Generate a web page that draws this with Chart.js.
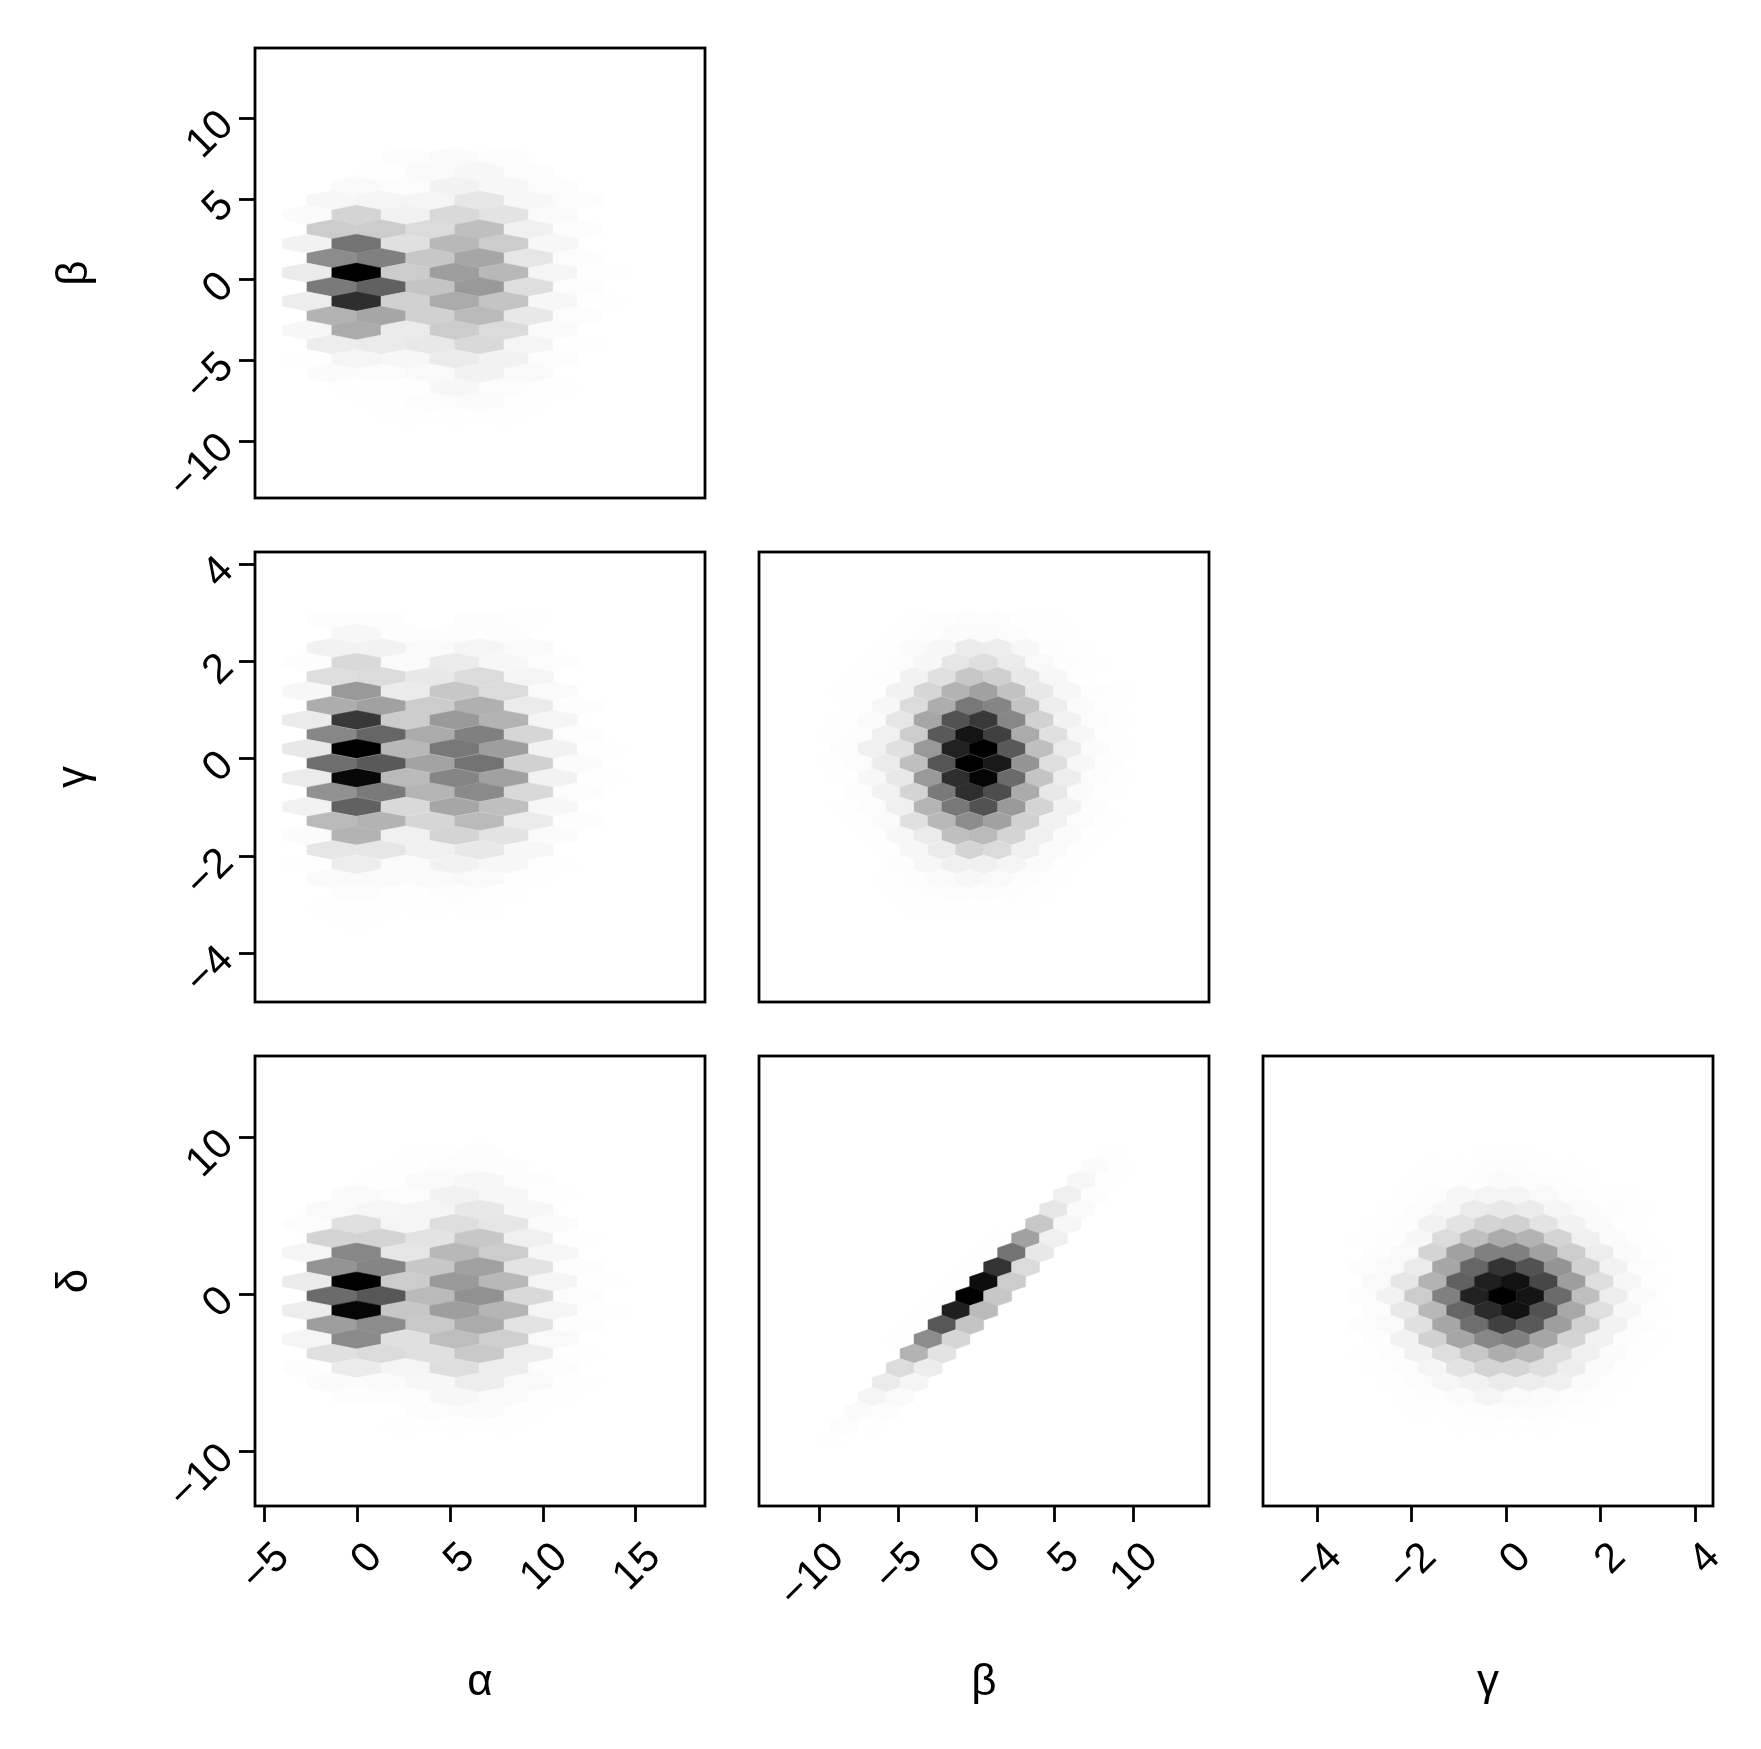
<!DOCTYPE html>
<html>
<head>
<meta charset="utf-8">
<title>Corner plot</title>
<script src="https://cdn.jsdelivr.net/npm/chart.js@4/dist/chart.umd.js"></script>
<style>
  html, body { margin: 0; padding: 0; background: #fff; }
  #wrap { position: relative; width: 1761px; height: 1749px; overflow: hidden; }
  #wrap canvas { position: absolute; }
</style>
</head>
<body>
<div id="wrap"></div>
<script>
// hex bin centres, in data units
const alphaBins = [-2.72, -1.40, -0.06, 1.27, 2.59, 3.92, 5.23, 6.57, 7.88, 9.22, 10.54, 11.87, 13.18];
const betaBins = [-9.32, -8.43, -7.54, -6.65, -5.76, -4.87, -3.98, -3.09, -2.20, -1.31, -0.43, 0.46, 1.35, 2.24, 3.13, 4.02, 4.91, 5.80, 6.69, 7.58, 8.46, 9.35];
const gammaBins = [-3.04, -2.74, -2.45, -2.15, -1.86, -1.56, -1.27, -0.97, -0.68, -0.38, -0.09, 0.20, 0.50, 0.79, 1.09, 1.38, 1.68, 1.97, 2.27, 2.56, 2.86, 3.15];

const betaRows = [7.60, 6.71, 5.81, 4.92, 4.03, 3.13, 2.24, 1.35, 0.45, -0.44, -1.33, -2.23, -3.12, -4.01, -4.91, -5.80, -6.69, -7.59, -8.48];
const gammaRows = [2.87, 2.58, 2.28, 1.98, 1.69, 1.39, 1.09, 0.80, 0.50, 0.21, -0.09, -0.39, -0.68, -0.98, -1.28, -1.57, -1.87, -2.17, -2.46, -2.76, -3.06, -3.35];
const deltaRows = [9.09, 8.17, 7.26, 6.34, 5.42, 4.50, 3.58, 2.67, 1.75, 0.83, -0.09, -1.01, -1.92, -2.84, -3.76, -4.68, -5.60, -6.51, -7.43, -8.35, -9.27];

const alphaTicks = [-5, 0, 5, 10, 15];
const betaTicks = [-10, -5, 0, 5, 10];
const gammaTicks = [-4, -2, 0, 2, 4];
const deltaTicks = [-10, 0, 10];

const alphaRange = [-5.53, 18.72];
const betaXRange = [-13.87, 14.83];
const betaYRange = [-13.51, 14.37];
const gammaXRange = [-5.15, 4.37];
const gammaYRange = [-4.99, 4.25];
const deltaRange = [-13.46, 15.2];

// density in percent of the panel maximum, one row per y bin, one column per x bin
const alphaBetaDensity = [
  [0,0,0,0,1,0,2,0,1,0,0,0,0],
  [0,0,0,.5,0,2,0,3,0,1,0,0,0],
  [0,0,2,0,1,0,5,0,3,0,1,0,0],
  [0,3,0,4,0,4,0,10,0,3,0,1,0],
  [1.5,0,17,0,5,0,15,0,11,0,2,0,0],
  [0,20,0,20,0,14,0,25,0,6,0,1,0],
  [5,0,55,0,12,0,28,0,20,0,3,0,0],
  [0,45,0,50,0,22,0,35,0,10,0,1,0],
  [8,0,100,0,20,0,38,0,28,0,4,0,.3],
  [0,52,0,62,0,23,0,40,0,13,0,1,0],
  [7,0,82,0,18,0,33,0,23,0,3,0,.2],
  [0,30,0,35,0,18,0,27,0,9,0,1,0],
  [3,0,33,0,8,0,20,0,14,0,2,0,0],
  [0,7,0,8,0,9,0,15,0,4,0,.5,0],
  [.5,0,4,0,3,0,8,0,5,0,1,0,0],
  [0,1.5,0,1,0,2,0,5,0,2,0,0,0],
  [0,0,.5,0,.5,0,3,0,1,0,.2,0,0],
  [0,0,0,.2,0,1,0,1.5,0,.3,0,0,0],
  [0,0,0,0,.2,0,.5,0,.2,0,0,0,0]
];

const alphaGammaDensity = [
  [0,.7,0,.7,0,0,0,.7,0,.2,0,0,0],
  [0,0,3,0,.7,0,.7,0,.7,0,0,0,0],
  [0,5,0,5,0,2,0,4,0,2,0,0,0],
  [.7,0,15,0,2,0,8,0,3,0,.7,0,0],
  [0,13,0,14,0,9,0,14,0,4,0,0,0],
  [3,0,40,0,8,0,22,0,14,0,2,0,0],
  [0,32,0,37,0,20,0,31,0,8,0,.7,0],
  [8,0,78,0,20,0,40,0,30,0,4,0,0],
  [0,47,0,60,0,33,0,50,0,16,0,1,0],
  [9,0,100,0,28,0,53,0,38,0,5,0,.3],
  [0,57,0,65,0,36,0,55,0,18,0,1.5,0],
  [8,0,97,0,27,0,48,0,37,0,5,0,.3],
  [0,43,0,52,0,29,0,46,0,15,0,1,0],
  [5,0,62,0,15,0,35,0,25,0,3,0,0],
  [0,27,0,30,0,16,0,27,0,8,0,.7,0],
  [1.5,0,30,0,6,0,17,0,11,0,1.5,0,0],
  [0,10,0,10,0,6,0,9,0,3,0,0,0],
  [.5,0,7,0,2,0,5,0,3,0,.5,0,0],
  [0,2,0,2,0,1.5,0,2.5,0,.5,0,0,0],
  [0,0,1,0,.3,0,.7,0,.5,0,0,0,0],
  [0,.3,0,.4,0,.2,0,.2,0,0,0,0,0],
  [0,0,.2,0,0,0,0,0,0,0,0,0,0]
];

const alphaDeltaDensity = [
  [0,0,0,0,0,.3,0,.7,0,0,0,0,0],
  [0,0,0,0,.2,0,1.2,0,.7,0,0,0,0],
  [0,0,0,.3,0,2,0,3,0,.7,0,0,0],
  [0,0,2,0,1,0,5,0,3,0,.3,0,0],
  [0,2.5,0,3.5,0,4,0,9,0,3,0,0,0],
  [1,0,12,0,4,0,13,0,10,0,1.5,0,0],
  [0,17,0,17,0,11,0,22,0,6,0,.3,0],
  [4,0,47,0,10,0,28,0,20,0,3,0,0],
  [0,42,0,48,0,22,0,37,0,11,0,.7,0],
  [8,0,100,0,20,0,40,0,28,0,4,0,.3],
  [0,58,0,66,0,27,0,43,0,15,0,1,0],
  [7,0,98,0,22,0,38,0,29,0,4,0,.2],
  [0,38,0,45,0,21,0,33,0,11,0,.7,0],
  [4,0,46,0,12,0,26,0,19,0,2.5,0,0],
  [0,12,0,14,0,12,0,21,0,7,0,.3,0],
  [.7,0,8,0,4,0,13,0,7,0,1,0,0],
  [0,1.5,0,1.5,0,3,0,7,0,2.5,0,.2,0],
  [0,0,.8,0,.7,0,3,0,2,0,.3,0,0],
  [0,0,0,0,0,1,0,1.5,0,.3,0,0,0],
  [0,0,0,0,.2,0,.4,0,.2,0,0,0,0]
];

const betaGammaDensity = [
  [0,0,0,0,0,0,.3,0,.8,0,1.2,0,1,0,.5,0,.2,0,0,0,0,0],
  [0,0,0,0,0,.3,0,.8,0,1.7,0,1.7,0,1.2,0,.5,0,.2,0,0,0,0],
  [0,0,0,0,.4,0,1.5,0,3,0,8,0,7,0,3,0,.8,0,.2,0,0,0],
  [0,0,0,.3,0,1,0,3,0,10,0,13,0,8,0,2.5,0,.7,0,.2,0,0],
  [0,0,.2,0,.7,0,5,0,12,0,22,0,19,0,9,0,3,0,.5,0,0,0],
  [0,.2,0,.5,0,5,0,16,0,30,0,37,0,24,0,9,0,3,0,.7,0,.2],
  [0,0,.5,0,3,0,14,0,32,0,53,0,48,0,23,0,7,0,1.5,0,.3,0],
  [0,.3,0,2,0,10,0,35,0,68,0,78,0,47,0,18,0,5,0,1,0,.3],
  [.2,0,.9,0,6,0,20,0,65,0,92,0,75,0,33,0,12,0,3,0,.5,0],
  [0,.6,0,6,0,12,0,40,0,87,0,100,0,65,0,25,0,8,0,1.5,0,.4],
  [.2,0,1,0,8,0,25,0,67,0,100,0,90,0,42,0,13,0,3,0,.6,0],
  [0,.4,0,3,0,9,0,40,0,82,0,98,0,58,0,23,0,7,0,1,0,.3],
  [0,0,.6,0,5,0,17,0,52,0,82,0,70,0,33,0,9,0,1.5,0,.3,0],
  [0,.2,0,1,0,6,0,29,0,53,0,68,0,40,0,17,0,5,0,.6,0,0],
  [0,0,.3,0,1.5,0,12,0,28,0,45,0,37,0,18,0,5,0,1,0,.2,0],
  [0,0,0,.5,0,3,0,8,0,25,0,27,0,17,0,6,0,1.5,0,.4,0,0],
  [0,0,0,0,.5,0,3,0,8,0,17,0,14,0,6,0,2,0,.3,0,0,0],
  [0,0,0,0,0,.8,0,3,0,6,0,6,0,4,0,1.5,0,.5,0,0,0,0],
  [0,0,0,0,.2,0,.7,0,2,0,3,0,2.5,0,1.2,0,.4,0,0,0,0,0],
  [0,0,0,0,0,.2,0,.7,0,1,0,1,0,.7,0,.3,0,0,0,0,0,0],
  [0,0,0,0,0,0,.2,0,.4,0,.5,0,.4,0,.2,0,0,0,0,0,0,0]
];

const betaDeltaDensity = [
  [0,0,0,0,0,0,0,0,0,0,0,0,0,0,0,0,0,0,0,0,.5,0],
  [0,0,0,0,0,0,0,0,0,0,0,0,0,0,0,0,0,0,0,1.5,0,.2],
  [0,0,0,0,0,0,0,0,0,0,0,0,0,0,0,0,0,0,3,0,.3,0],
  [0,0,0,0,0,0,0,0,0,0,0,0,0,0,0,0,0,6,0,.7,0,0],
  [0,0,0,0,0,0,0,0,0,0,0,0,0,0,0,0,10,0,2,0,0,0],
  [0,0,0,0,0,0,0,0,0,0,0,0,0,.1,0,22,0,3.5,0,0,0,0],
  [0,0,0,0,0,0,0,0,0,0,0,0,.2,0,37,0,6,0,0,0,0,0],
  [0,0,0,0,0,0,0,0,0,0,0,.3,0,55,0,9,0,0,0,0,0,0],
  [0,0,0,0,0,0,0,0,0,0,.4,0,80,0,14,0,0,0,0,0,0,0],
  [0,0,0,0,0,0,0,0,0,.5,0,95,0,20,0,0,0,0,0,0,0,0],
  [0,0,0,0,0,0,0,0,.4,0,100,0,22,0,0,0,0,0,0,0,0,0],
  [0,0,0,0,0,0,0,.3,0,88,0,27,0,0,0,0,0,0,0,0,0,0],
  [0,0,0,0,0,0,.2,0,66,0,23,0,0,0,0,0,0,0,0,0,0,0],
  [0,0,0,0,0,.2,0,45,0,16,0,0,0,0,0,0,0,0,0,0,0,0],
  [0,0,0,0,0,0,30,0,11,0,0,0,0,0,0,0,0,0,0,0,0,0],
  [0,0,0,0,0,14,0,7,0,0,0,0,0,0,0,0,0,0,0,0,0,0],
  [0,0,0,0,8,0,4,0,0,0,0,0,0,0,0,0,0,0,0,0,0,0],
  [0,0,0,4,0,2,0,0,0,0,0,0,0,0,0,0,0,0,0,0,0,0],
  [0,0,2,0,1,0,0,0,0,0,0,0,0,0,0,0,0,0,0,0,0,0],
  [0,1,0,.3,0,0,0,0,0,0,0,0,0,0,0,0,0,0,0,0,0,0],
  [.4,0,0,0,0,0,0,0,0,0,0,0,0,0,0,0,0,0,0,0,0,0]
];

const gammaDeltaDensity = [
  [0,0,0,0,0,0,0,0,0,.2,0,.2,0,0,0,0,0,0,0,0,0,0],
  [0,0,0,0,0,.2,0,.4,0,.6,0,.7,0,.4,0,.2,0,0,0,0,0,0],
  [0,0,0,0,.2,0,.5,0,.9,0,1.5,0,1.2,0,.7,0,.3,0,0,0,0,0],
  [0,0,0,.2,0,.7,0,3,0,4,0,4,0,2.5,0,1,0,.4,0,.2,0,0],
  [0,0,.2,0,1,0,3,0,8,0,9,0,8,0,4,0,1.5,0,.6,0,.2,0],
  [0,.2,0,.7,0,5,0,11,0,17,0,18,0,11,0,5,0,2,0,.5,0,0],
  [.2,0,.6,0,3,0,14,0,25,0,33,0,30,0,17,0,6,0,1.5,0,.3,0],
  [0,.7,0,2.5,0,17,0,37,0,50,0,50,0,37,0,20,0,7,0,1.5,0,.3],
  [.7,0,2.5,0,8,0,35,0,60,0,80,0,68,0,42,0,18,0,5,0,1,0],
  [0,2.5,0,10,0,30,0,62,0,88,0,93,0,72,0,38,0,13,0,3.5,0,.4],
  [1.2,0,5,0,20,0,50,0,87,0,100,0,92,0,58,0,25,0,7,0,1.5,0],
  [0,1.2,0,9,0,28,0,60,0,83,0,93,0,68,0,34,0,12,0,3,0,.4],
  [.7,0,2.5,0,12,0,35,0,57,0,75,0,65,0,38,0,18,0,5,0,1,0],
  [0,.6,0,5,0,18,0,35,0,47,0,50,0,35,0,17,0,5,0,1,0,.2],
  [.2,0,1.2,0,5,0,13,0,22,0,32,0,28,0,13,0,6,0,1.5,0,.3,0],
  [0,.2,0,1,0,4,0,11,0,17,0,17,0,13,0,7,0,2,0,.4,0,0],
  [0,0,.3,0,1,0,3.5,0,5,0,8,0,7,0,6,0,1.5,0,.4,0,0,0],
  [0,0,0,.2,0,.7,0,1.5,0,4,0,2.5,0,1.5,0,1,0,.4,0,0,0,0],
  [0,0,0,0,.2,0,.4,0,.8,0,1,0,1,0,.6,0,.2,0,0,0,0,0],
  [0,0,0,0,0,0,0,.2,0,.4,0,.4,0,.2,0,0,0,0,0,0,0,0]
];

const FONT = '"Liberation Sans", Arial, sans-serif';
const colLefts = [255, 759, 1263];
const rowTops = [48, 552, 1056];

Chart.defaults.font.family = FONT;

// fills each hexagon through the chart's scales, then frames the panel
const hexbinPlugin = {
  id: 'hexbin',
  beforeDatasetsDraw(chart, args, opts) {
    const { ctx, chartArea: area, scales: { x, y } } = chart;
    ctx.save();
    ctx.beginPath();
    ctx.rect(area.left, area.top, area.width, area.height);
    ctx.clip();
    ctx.lineWidth = 0.5;
    chart.data.datasets[0].data.forEach(p => {
      const cx = x.getPixelForValue(p.x);
      const cy = y.getPixelForValue(p.y);
      const hw = Math.abs(x.getPixelForValue(p.x + opts.hexW / 2) - cx);
      const hh = Math.abs(y.getPixelForValue(p.y + opts.hexH / 2) - cy);
      const g = Math.round(255 * (1 - p.v / 100));
      ctx.fillStyle = `rgb(${g},${g},${g})`;
      ctx.strokeStyle = ctx.fillStyle;
      ctx.beginPath();
      ctx.moveTo(cx, cy - hh);
      ctx.lineTo(cx + hw, cy - hh / 2);
      ctx.lineTo(cx + hw, cy + hh / 2);
      ctx.lineTo(cx, cy + hh);
      ctx.lineTo(cx - hw, cy + hh / 2);
      ctx.lineTo(cx - hw, cy - hh / 2);
      ctx.closePath();
      ctx.fill();
      ctx.stroke();
    });
    ctx.restore();
  },
  afterDatasetsDraw(chart) {
    const { ctx, chartArea: area } = chart;
    ctx.save();
    ctx.strokeStyle = '#000';
    ctx.lineWidth = 2.8;
    ctx.strokeRect(area.left, area.top, area.width, area.height);
    ctx.restore();
  }
};

function minusLabel(v) {
  return String(v).replace('-', '\u2212');
}

function makeScale(horizontal, range, ticks, title) {
  const showTicks = !!ticks;
  return {
    type: 'linear',
    min: range[0],
    max: range[1],
    afterBuildTicks: s => { s.ticks = (ticks || []).map(v => ({ value: v })); },
    afterFit: s => {
      if (horizontal) s.height = 244; else s.width = 255;
    },
    border: { display: false },
    grid: {
      display: showTicks,
      drawOnChartArea: false,
      tickLength: 16,
      tickWidth: 2.8,
      tickColor: '#000'
    },
    ticks: {
      display: showTicks,
      autoSkip: false,
      minRotation: 45,
      maxRotation: 45,
      padding: horizontal ? 11 : 12,
      labelOffset: horizontal ? 18 : 0,
      color: '#000',
      font: { size: 42, family: FONT },
      callback: minusLabel
    },
    title: {
      display: !!title,
      text: title || '',
      color: '#000',
      font: { size: 44, family: FONT },
      padding: horizontal ? { top: 0, bottom: 41 } : { top: 48, bottom: 0 }
    }
  };
}

function makePanel(col, row, xBins, yBins, density, xRange, yRange, xTicks, yTicks, xTitle, yTitle) {
  const cv = document.createElement('canvas');
  cv.width = 754;
  cv.height = 742;
  cv.style.left = (colLefts[col] - 255) + 'px';
  cv.style.top = (rowTops[row] - 48) + 'px';
  cv.style.width = '754px';
  cv.style.height = '742px';
  document.getElementById('wrap').appendChild(cv);

  const points = [];
  density.forEach((vals, r) => {
    vals.forEach((v, c) => {
      if (v > 0) points.push({ x: xBins[c], y: yBins[r], v: v });
    });
  });

  new Chart(cv, {
    type: 'scatter',
    data: { datasets: [{ data: points, pointRadius: 0 }] },
    options: {
      responsive: false,
      animation: false,
      layout: { padding: { left: 0, top: 48, right: 49, bottom: 0 } },
      plugins: {
        legend: { display: false },
        tooltip: { enabled: false },
        hexbin: {
          hexW: xBins[2] - xBins[0],
          hexH: (yBins[0] - yBins[1]) * 4 / 3
        }
      },
      scales: {
        x: makeScale(true, xRange, xTicks, xTitle),
        y: makeScale(false, yRange, yTicks, yTitle)
      }
    },
    plugins: [hexbinPlugin]
  });
}

makePanel(0, 0, alphaBins, betaRows, alphaBetaDensity, alphaRange, betaYRange, null, betaTicks, null, 'β');
makePanel(0, 1, alphaBins, gammaRows, alphaGammaDensity, alphaRange, gammaYRange, null, gammaTicks, null, 'γ');
makePanel(1, 1, betaBins, gammaRows, betaGammaDensity, betaXRange, gammaYRange, null, null, null, null);
makePanel(0, 2, alphaBins, deltaRows, alphaDeltaDensity, alphaRange, deltaRange, alphaTicks, deltaTicks, 'α', 'δ');
makePanel(1, 2, betaBins, deltaRows, betaDeltaDensity, betaXRange, deltaRange, betaTicks, null, 'β', null);
makePanel(2, 2, gammaBins, deltaRows, gammaDeltaDensity, gammaXRange, deltaRange, gammaTicks, null, 'γ', null);
</script>
</body>
</html>
